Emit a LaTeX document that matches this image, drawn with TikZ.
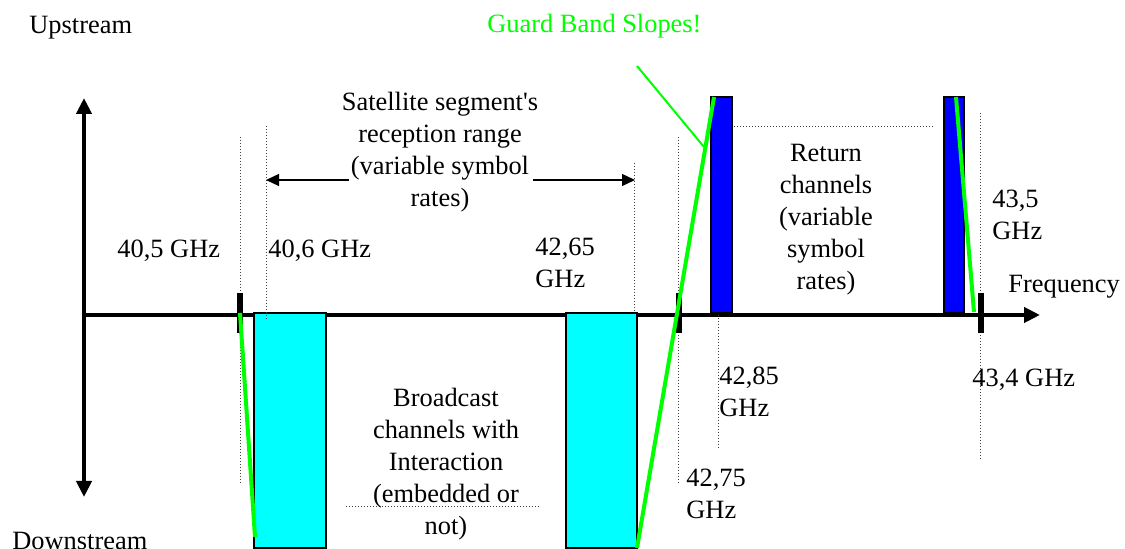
\documentclass[tikz,border=0pt]{standalone}
\usepackage{fontspec}
\setmainfont{Liberation Serif}
\usetikzlibrary{arrows.meta}

\begin{document}
\begin{tikzpicture}
		[x=0.5pt,y=-0.5pt,
		%Styles
		axis line/.style={line width=2pt},
		axis tip/.style={-{Triangle[width=7.5pt,length=8pt]}},
		range arrow/.style={line width=0.65pt,-{Triangle[width=6pt,length=6.5pt]}},
		guide/.style={densely dotted,line width=0.5pt,black!75},
		bcast box/.style={fill=bandcyan,draw,line width=0.8pt},
		return box/.style={fill=bandblue,draw,line width=1.2pt},
		band mark/.style={fill=black},
		slope line/.style={line width=2pt,slopecolor},
		label text/.style={font=\fontsize{13.2}{16}\selectfont,inner sep=0pt},
		block text/.style={label text,align=center,anchor=base},
		freq text/.style={label text,align=left,anchor=base west}
		]
		
		%Colors
		\definecolor{slopecolor}{RGB}{0,255,0}
		\definecolor{bandcyan}{RGB}{0,255,255}
		\definecolor{bandblue}{RGB}{0,0,255}
		
		\useasboundingbox (0,0) rectangle (1125,549);
		
		%Axes
		\coordinate (O) at (84,315);
		\coordinate (up) at (84,98);
		\coordinate (down) at (84,497);
		\coordinate (freq) at (1040,315);
		\draw[axis line,{Triangle[width=7.5pt,length=8pt]}-{Triangle[width=7.5pt,length=8pt]}] (up) -- (down);
		\draw[axis line,axis tip] (O) -- (freq);
		
		%Channels
		\draw[bcast box] (254,313) rectangle (326,548);
		\draw[bcast box] (566,313) rectangle (637,548);
		\draw[return box] (711,97) rectangle (732,313);
		\draw[return box] (944,97) rectangle (964,313);
		
		%Guides
		\draw[guide] (240,137) -- (240,485);
		\draw[guide] (266,126) -- (266,319);
		\draw[guide] (634,163) -- (634,313);
		\draw[guide] (678,137) -- (678,485);
		\draw[guide] (718,315) -- (718,448);
		\draw[guide] (980,113) -- (980,460);
		\draw[guide] (734,127) -- (935,127);
		\draw[guide] (346,507) -- (539,507);
		
		\foreach \x in {240,679,981}
			\fill[band mark] (\x-2.7,293) rectangle (\x+2.7,333);
		
		%Guard bands
		\coordinate (gb) at (637,66);
		\coordinate (gb end) at (704,147);
		\draw[slope line] (240,313) -- (255,537);
		\draw[slope line] (637,548) -- (714,97);
		\draw[slope line] (956,97) -- (974,312);
		\draw[slopecolor,line width=1pt] (gb) -- (gb end);
		
		%Range
		\coordinate (sat left) at (349,180);
		\coordinate (sat lo) at (266,180);
		\coordinate (sat right) at (533,180);
		\coordinate (sat hi) at (635,180);
		\draw[range arrow] (sat left) -- (sat lo);
		\draw[range arrow] (sat right) -- (sat hi);
		
		%Labels (base = last line)
		\node[label text,anchor=base west] (upstream) at (29,34) {Upstream};
		\node[label text,anchor=base west] (downstream) at (12,550) {Downstream};
		\node[label text,anchor=base west,text=slopecolor] (guard) at (487,33) {Guard Band Slopes!};
		\node[block text] (sat) at (440,207) {Satellite segment\textquotesingle s\\reception range\\(variable symbol\\rates)};
		\node[block text] (ret) at (826,290) {Return\\channels\\(variable\\symbol\\rates)};
		\node[block text] (bcast) at (446,535) {Broadcast\\channels with\\Interaction\\(embedded or\\not)};
		\node[freq text] (f405) at (117,258) {40,5 GHz};
		\node[freq text] (f406) at (268,258) {40,6 GHz};
		\node[freq text] (f4265) at (535,288) {42,65\\GHz};
		\node[freq text] (f4285) at (719,417) {42,85\\GHz};
		\node[freq text] (f4275) at (686,519) {42,75\\GHz};
		\node[freq text] (f435) at (992,240) {43,5\\GHz};
		\node[freq text] (f434) at (972,387) {43,4 GHz};
		\node[freq text] (frequency) at (1008,293) {Frequency};
	\end{tikzpicture}
\end{document}
